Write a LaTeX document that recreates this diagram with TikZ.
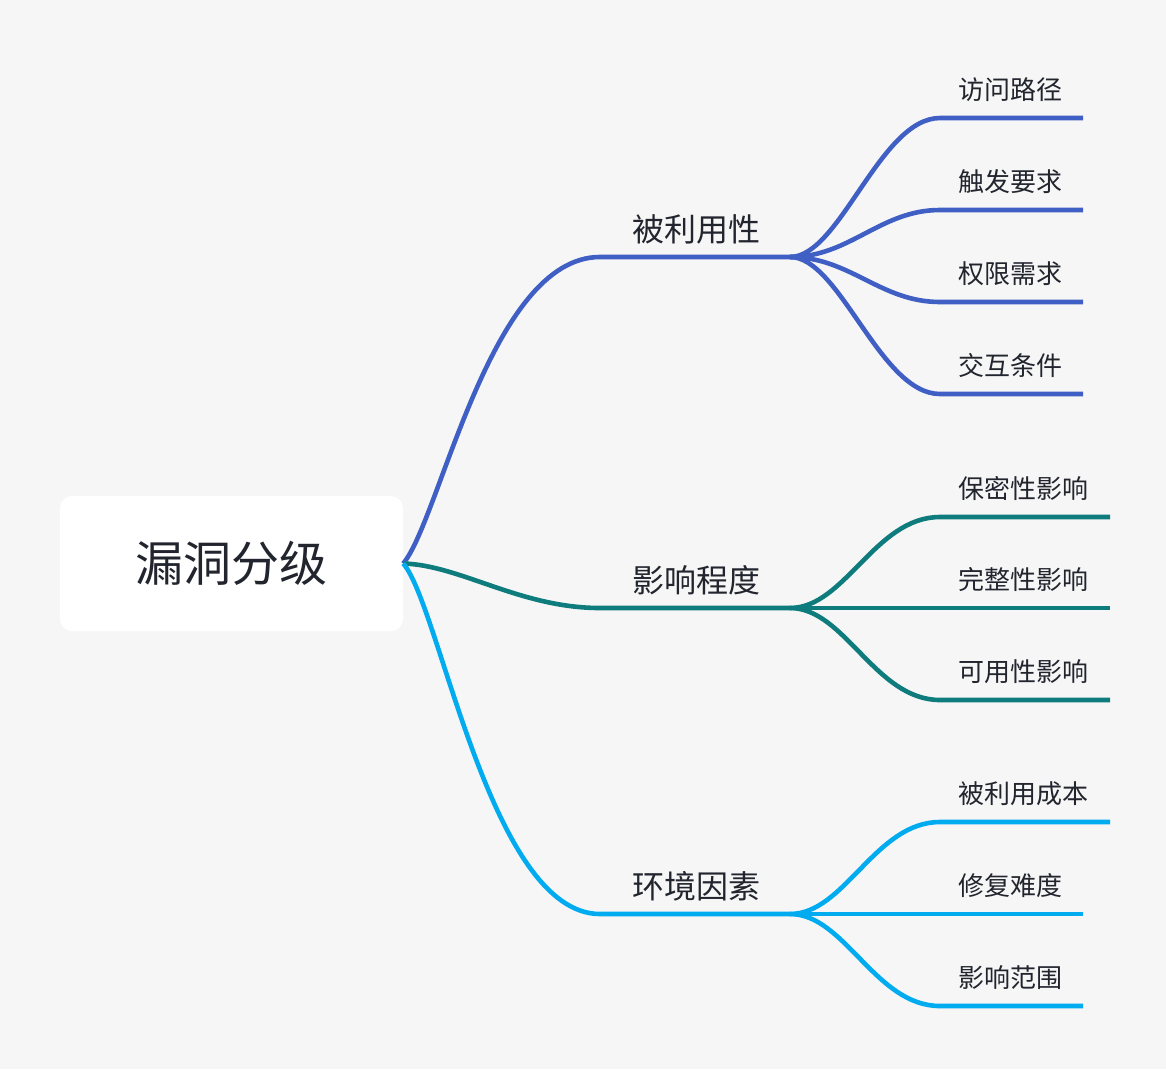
\documentclass[tikz,border=0pt]{standalone}
\usepackage{fontspec}
\newfontfamily\cjk{Noto Sans CJK SC}
\usepackage{xcolor}
\usepackage{tikz}
\definecolor{bgcol}{HTML}{F6F6F6}
\definecolor{explcol}{HTML}{3F5FC5}
\definecolor{impcol}{HTML}{0E7B7C}
\definecolor{envcol}{HTML}{00ABEF}
\definecolor{txtcol}{HTML}{22252E}

\begin{document}
\begin{tikzpicture}[x=1pt, y=-1pt,
  every node/.style={font=\cjk, text=txtcol, inner sep=0pt},
  rootbox/.style={fill=white, rounded corners=12pt, minimum width=343pt, minimum height=135pt, font=\cjk\fontsize{48}{48}\selectfont},
  mid/.style={font=\cjk\fontsize{32}{32}\selectfont},
  leaf/.style={anchor=west, font=\cjk\fontsize{26}{26}\selectfont},
  link/.style={line width=4.6pt}]

  % ========== Background ==========
  \fill[bgcol] (0,0) rectangle (1166,1069);
  \useasboundingbox (0,0) rectangle (1166,1069);

  % ========== Root ==========
  \node[rootbox] (root) at (231.5,563.5) {漏洞分级};

  % ========== Branch: 被利用性 ==========
  \node[mid] (expl) at (696,229) {被利用性};
  \coordinate (expl-l) at (600,257);
  \coordinate (expl-r) at (790,257);
  \draw[link, explcol] (root.east) .. controls (440,520) and (490,257) .. (expl-l) -- (expl-r);

  % leaves
  \node[leaf] (path) at (958,90) {访问路径};
  \node[leaf] (trig) at (958,182) {触发要求};
  \node[leaf] (priv) at (958,274) {权限需求};
  \node[leaf] (inter) at (958,366) {交互条件};
  \coordinate (path-l) at (940,118);  \coordinate (path-r) at (1083,118);
  \coordinate (trig-l) at (940,210);  \coordinate (trig-r) at (1083,210);
  \coordinate (priv-l) at (940,302);  \coordinate (priv-r) at (1083,302);
  \coordinate (inter-l) at (940,394); \coordinate (inter-r) at (1083,394);
  \draw[link, explcol] (expl-r) .. controls (840,257) and (880,118) .. (path-l) -- (path-r);
  \draw[link, explcol] (expl-r) .. controls (850,257) and (880,210) .. (trig-l) -- (trig-r);
  \draw[link, explcol] (expl-r) .. controls (850,257) and (880,302) .. (priv-l) -- (priv-r);
  \draw[link, explcol] (expl-r) .. controls (840,257) and (880,394) .. (inter-l) -- (inter-r);

  % ========== Branch: 影响程度 ==========
  \node[mid] (impact) at (696,580) {影响程度};
  \coordinate (impact-l) at (600,608);
  \coordinate (impact-r) at (790,608);
  \draw[link, impcol] (root.east) .. controls (460,565) and (520,608) .. (impact-l) -- (impact-r);

  % leaves
  \node[leaf] (conf) at (958,488) {保密性影响};
  \node[leaf] (integ) at (958,580) {完整性影响};
  \node[leaf] (avail) at (958,672) {可用性影响};
  \coordinate (conf-l) at (940,517);  \coordinate (conf-r) at (1110,517);
  \coordinate (integ-r) at (1110,608);
  \coordinate (avail-l) at (940,700); \coordinate (avail-r) at (1110,700);
  \draw[link, impcol] (impact-r) .. controls (845,608) and (875,517) .. (conf-l) -- (conf-r);
  \draw[link, impcol] (impact-r) -- (integ-r);
  \draw[link, impcol] (impact-r) .. controls (845,608) and (875,700) .. (avail-l) -- (avail-r);

  % ========== Branch: 环境因素 ==========
  \node[mid] (env) at (696,886) {环境因素};
  \coordinate (env-l) at (600,914);
  \coordinate (env-r) at (790,914);
  \draw[link, envcol] (root.east) .. controls (440,605) and (490,914) .. (env-l) -- (env-r);

  % leaves
  \node[leaf] (cost) at (958,794) {被利用成本};
  \node[leaf] (fix) at (958,886) {修复难度};
  \node[leaf] (rng) at (958,978) {影响范围};
  \coordinate (cost-l) at (940,822);  \coordinate (cost-r) at (1110,822);
  \coordinate (fix-r) at (1083,914);
  \coordinate (rng-l) at (940,1006);  \coordinate (rng-r) at (1083,1006);
  \draw[link, envcol] (env-r) .. controls (845,914) and (875,822) .. (cost-l) -- (cost-r);
  \draw[link, envcol] (env-r) -- (fix-r);
  \draw[link, envcol] (env-r) .. controls (845,914) and (875,1006) .. (rng-l) -- (rng-r);

\end{tikzpicture}
\end{document}
